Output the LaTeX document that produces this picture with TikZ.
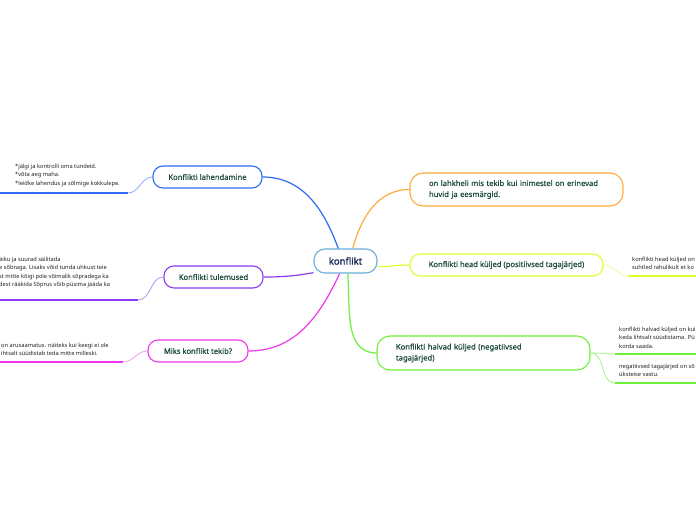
\documentclass[tikz,border=0pt]{standalone}
\usepackage{fontspec}
\setmainfont{Noto Sans}
\newfontfamily\topicfont{Noto Sans}[FakeBold=0.6]
\newfontfamily\ctrfont{Noto Sans}[FakeBold=1.6]

\definecolor{ctrline}{HTML}{6AAEDD}
\definecolor{ctrtext}{HTML}{1B2B5B}
\definecolor{toptext}{HTML}{1E4D3C}
\definecolor{leaftext}{HTML}{222222}
\definecolor{blueB}{HTML}{2F6BF2}
\definecolor{blueL}{HTML}{94B3FA}
\definecolor{purpB}{HTML}{8A3CF0}
\definecolor{purpL}{HTML}{BC9DF6}
\definecolor{magB}{HTML}{F035EE}
\definecolor{magL}{HTML}{F6A3F3}
\definecolor{orgB}{HTML}{FFAA3C}
\definecolor{yelB}{HTML}{DDFF2A}
\definecolor{yelL}{HTML}{EEFF99}
\definecolor{grnB}{HTML}{6CF03A}
\definecolor{grnL}{HTML}{AAF592}

\tikzset{
  topic/.style={draw,rounded corners=10pt,line width=1.1pt,fill=white,text=toptext,
    inner sep=0pt,font=\topicfont\fontsize{7.6}{11}\selectfont},
  leaf/.style={anchor=north west,inner sep=0pt,align=left,text=leaftext,
    font=\fontsize{5.7}{8.3}\selectfont},
}

\begin{document}
\begin{tikzpicture}[x=1pt,y=1pt]
\useasboundingbox[fill=white] (0,0) rectangle (696,520);
% main topics
\node[topic,draw=ctrline,rounded corners=11pt,minimum width=63pt,minimum height=24pt,text=ctrtext,
  font=\ctrfont\fontsize{9.5}{12}\selectfont] (ctr) at (345.5,259) {konflikt};
\node[topic,draw=orgB,rounded corners=13pt,minimum height=33pt,text width=175pt,inner xsep=19pt,align=left]
  (def) at (516.5,330.5) {on lahkheli mis tekib kui inimestel on erinevad\\huvid ja eesmärgid.};
\node[topic,draw=yelB,minimum width=193pt,minimum height=22pt] (head) at (506.5,255)
  {Konflikti head küljed (positiivsed tagajärjed)};
\node[topic,draw=grnB,rounded corners=13pt,minimum height=34pt,text width=175pt,inner xsep=19pt,align=left]
  (halb) at (483.5,167) {Konflikti halvad küljed (negatiivsed\\tagajärjed)};
\node[topic,draw=blueB,minimum width=109pt,minimum height=22pt] (lah) at (207.5,343) {Konflikti lahendamine};
\node[topic,draw=purpB,minimum width=99pt,minimum height=22pt] (tul) at (213.5,243) {Konflikti tulemused};
\node[topic,draw=magB,minimum width=100pt,minimum height=22pt] (miks) at (198,169) {Miks konflikt tekib?};

% branches
\draw[blueB,line width=1.2pt] (ctr.120) to[out=110,in=0] (lah.east);
\draw[orgB,line width=1.2pt] (ctr.60) to[out=75,in=180] (def.west);
\draw[yelB,line width=1.2pt] (ctr.-10) to[out=0,in=180] (head.west);
\draw[grnB,line width=1.2pt] (ctr.-80) to[out=-85,in=180] (halb.west);
\draw[purpB,line width=1.2pt] (ctr.200) to[out=190,in=0] (tul.east);
\draw[magB,line width=1.2pt] (ctr.-115) to[out=-115,in=0] (miks.east);

% leaves
\coordinate (lahA) at (-5,327); \coordinate (lahB) at (128,327);
\draw[blueL,line width=0.9pt] (lah.west) to[out=180,in=0] (lahB);
\draw[blueB,line width=2.2pt] (lahB) -- (lahA);
\node[leaf] (lahT) at (15,356) {*jälgi ja kontrolli oma tundeid.\\{}*võta aeg maha.\\{}*leidke lahendus ja sõlmige kokkulepe.};

\coordinate (tulA) at (-5,220); \coordinate (tulB) at (138,220);
\draw[purpL,line width=0.9pt] (tul.west) to[out=180,in=0] (tulB);
\draw[purpB,line width=2.2pt] (tulB) -- (tulA);
\node[leaf] (tulT) at (-1,263) {äiku ja suurad säilitada\\e sõbraga. Lisaks võid tunda uhkust teie\\st mitte kõigi pole võimalik sõpradega ka\\dest rääkida Sõprus võib püsima jääda ka\\.};

\coordinate (miksA) at (-5,158); \coordinate (miksB) at (123,158);
\draw[magL,line width=0.9pt] (miks.west) to[out=180,in=0] (miksB);
\draw[magB,line width=2.2pt] (miksB) -- (miksA);
\node[leaf] (miksT) at (1,177) {on arusaamatus. näiteks kui keegi ei ole\\ihtsalt süüdistab teda mitte milleski.};

\coordinate (headA) at (628,244); \coordinate (headB) at (700,244);
\draw[yelL,line width=0.9pt] (head.east) to[out=0,in=180] (headA);
\draw[yelB,line width=2.2pt] (headA) -- (headB);
\node[leaf] (headT) at (632,263) {konflikti head küljed on\\suhtled rahulikult et ko};

\coordinate (halbA) at (615,166); \coordinate (halbB) at (700,166);
\coordinate (halbC) at (615,137); \coordinate (halbD) at (700,137);
\draw[grnL,line width=0.9pt] (halb.east) to[out=0,in=180] (halbA);
\draw[grnL,line width=0.9pt] (halb.east) to[out=0,in=180] (halbC);
\draw[grnB,line width=2.2pt] (halbA) -- (halbB);
\draw[grnB,line width=2.2pt] (halbC) -- (halbD);
\node[leaf] (halbT1) at (619,193) {konflikti halvad küljed on kui\\keda lihtsalt süüdistama. Pü\\korda saada.};
\node[leaf] (halbT2) at (619,156) {negatiivsed tagajärjed on sõ\\üksteise vastu.};
\end{tikzpicture}
\end{document}
